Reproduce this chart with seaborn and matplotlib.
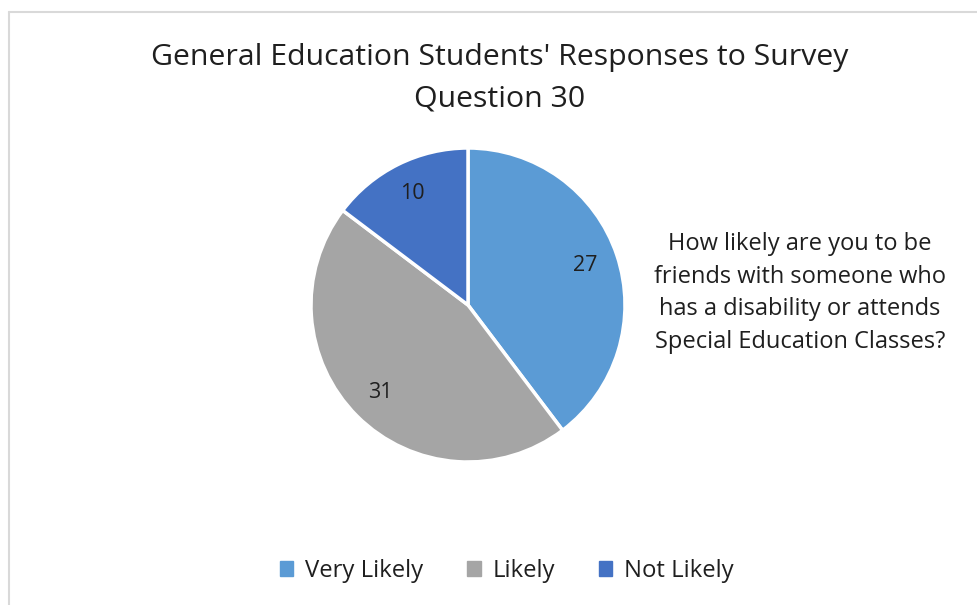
import matplotlib
matplotlib.use("Agg")
import matplotlib.pyplot as plt
import seaborn as sns
import numpy as np
from matplotlib.patches import Rectangle
from matplotlib.lines import Line2D

categories = ["Very Likely", "Likely", "Not Likely"]
counts = [27, 31, 10]
colors = ["#5B9BD5", "#A5A5A5", "#4472C4"]
title_lines = ["General Education Students' Responses to Survey", "Question 30"]
question = ("How likely are you to be\nfriends with someone who\n"
            "has a disability or attends\nSpecial Education Classes?")

sns.set_theme(style="white")
plt.rcParams["font.family"] = ["Open Sans", "DejaVu Sans"]
palette = sns.color_palette(colors)

W, H = 978, 605
fig = plt.figure(figsize=(W / 100, H / 100), dpi=100)
fig.patch.set_facecolor("white")

# chart frame (top and left edges visible)
fig.add_artist(Line2D([9 / W, 9 / W], [0, 1 - 12 / H], transform=fig.transFigure,
                      color="#d9d9d9", lw=1.5))
fig.add_artist(Line2D([9 / W, 1], [1 - 12 / H, 1 - 12 / H], transform=fig.transFigure,
                      color="#d9d9d9", lw=1.5))

# pie axes: center (468, 305), radius 157 px
cx, cy, r = 468, 305, 157
ax = fig.add_axes([(cx - r) / W, 1 - (cy + r) / H, 2 * r / W, 2 * r / H])
wedges, _ = ax.pie(counts, colors=palette, startangle=90, counterclock=False,
                   wedgeprops=dict(edgecolor="white", linewidth=2.5), radius=1.0)
ax.set_xlim(-1.0, 1.0)
ax.set_ylim(-1.0, 1.0)
ax.set_aspect("equal")

for w, v in zip(wedges, counts):
    theta = np.deg2rad((w.theta1 + w.theta2) / 2)
    ax.text(0.79 * np.cos(theta), 0.79 * np.sin(theta), str(v),
            ha="center", va="center", fontsize=15.5, color="#1f1f1f")

fig.text(500 / W, 1 - 57 / H, title_lines[0], ha="center", va="center",
         fontsize=21.8, color="#1f1f1f")
fig.text(500 / W, 1 - 99 / H, title_lines[1], ha="center", va="center",
         fontsize=21.8, color="#1f1f1f")

fig.text(800 / W, 1 - 293 / H, question, ha="center", va="center",
         fontsize=17, color="#1f1f1f", linespacing=1.47)

handles = [Rectangle((0, 0), 1, 1, color=c) for c in palette]
fig.legend(handles, categories, loc="center", bbox_to_anchor=(507 / W, 1 - 571 / H),
           ncol=3, frameon=False, fontsize=17.2, handlelength=0.55, handleheight=0.55,
           handletextpad=0.5, columnspacing=1.85, labelcolor="#1f1f1f")

fig.savefig("out.png", dpi=100, facecolor="white")
